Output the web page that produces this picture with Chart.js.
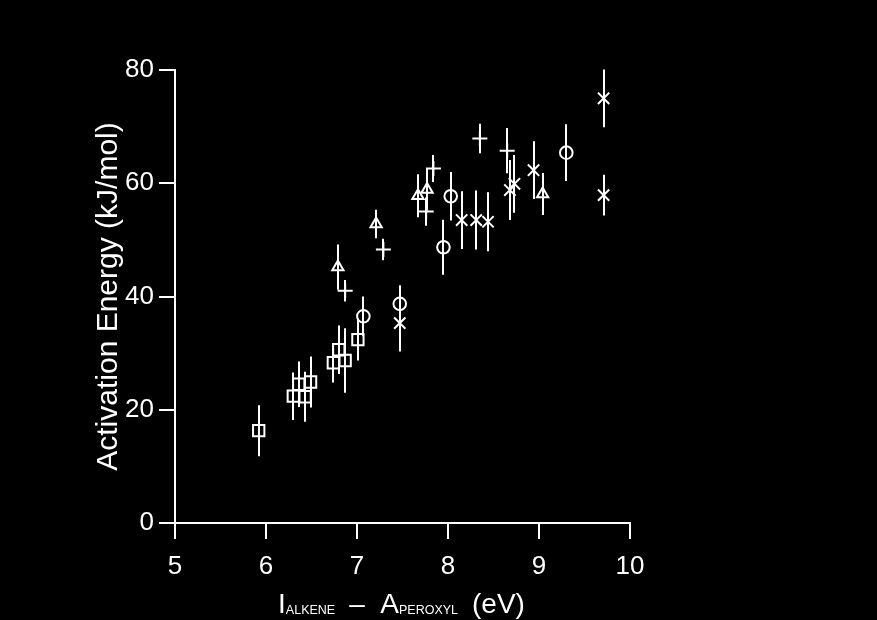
<!DOCTYPE html>
<html><head><meta charset="utf-8">
<script src="https://cdn.jsdelivr.net/npm/chart.js@4/dist/chart.umd.min.js"></script>
<style>html,body{margin:0;padding:0;background:#000;overflow:hidden}</style>
</head><body>
<canvas id="c" width="877" height="620"></canvas>
<script>
// ---- data ----
const xTicks = [5, 6, 7, 8, 9, 10];
const yTicks = [0, 20, 40, 60, 80];

const squareX   = [5.92, 6.30, 6.36, 6.43, 6.49, 6.74, 6.80, 6.87, 7.01];
const squareY   = [16.3, 22.4, 24.5, 22.3, 24.9, 28.3, 30.6, 28.7, 32.4];
const squareErr = [4.5, 4.2, 4.0, 4.4, 4.5, 3.5, 4.3, 5.7, 3.7];

const triangleX   = [6.79, 7.21, 7.67, 7.77, 9.04];
const triangleY   = [45.2, 52.8, 57.8, 58.9, 58.1];
const triangleErr = [4.0, 2.5, 3.8, 3.7, 3.7];

const circleX   = [7.07, 7.47, 7.95, 8.03, 9.30];
const circleY   = [36.5, 38.7, 48.7, 57.7, 65.4];
const circleErr = [3.5, 3.3, 4.85, 4.3, 5.0];

const crossX   = [7.47, 8.15, 8.31, 8.44, 8.68, 8.73, 8.94, 9.71, 9.71];
const crossY   = [35.3, 53.5, 53.5, 53.2, 58.8, 59.9, 62.3, 75.0, 57.9];
const crossErr = [5.0, 5.1, 5.2, 5.2, 5.3, 5.1, 5.1, 5.1, 3.6];

const plusX   = [6.87, 7.29, 7.76, 7.84, 8.35, 8.65];
const plusY   = [41.0, 48.3, 55.0, 62.6, 67.9, 65.75];
const plusErr = [1.9, 1.9, 2.5, 2.4, 2.6, 4.0];

const xTitleMain = ['I', '\u2013  A', '(eV)'];
const xTitleSub  = ['ALKENE', 'PEROXYL'];
const yTitle = 'Activation Energy (kJ/mol)';

// ---- build datasets ----
function pts(xs, ys) { return xs.map((x, i) => ({x: x, y: ys[i]})); }
function ds(label, xs, ys, errs, style, r) {
  return {label, data: pts(xs, ys), errors: errs, pointStyle: style, pointRadius: r,
    pointHoverRadius: r, borderColor: '#fff', backgroundColor: 'rgba(0,0,0,0)',
    pointBorderWidth: 2, borderWidth: 2, showLine: false};
}
const datasets = [
  ds('squares', squareX, squareY, squareErr, 'rect', 8),
  ds('triangles', triangleX, triangleY, triangleErr, 'triangle', 6.5),
  ds('circles', circleX, circleY, circleErr, 'circle', 6.3),
  ds('crosses', crossX, crossY, crossErr, 'crossRot', 8),
  ds('plus', plusX, plusY, plusErr, 'cross', 7.5)
];

const FONT = '"Liberation Sans", Arial, Helvetica, sans-serif';

const errorBars = {
  id: 'errorBars',
  beforeDatasetsDraw(chart) {
    const ctx = chart.ctx, xs = chart.scales.x, ys = chart.scales.y;
    ctx.save();
    ctx.strokeStyle = '#fff'; ctx.lineWidth = 2; ctx.lineCap = 'butt';
    chart.data.datasets.forEach(d => {
      d.data.forEach((p, i) => {
        const e = d.errors[i];
        const px = Math.round(xs.getPixelForValue(p.x));
        ctx.beginPath();
        ctx.moveTo(px, ys.getPixelForValue(p.y + e));
        ctx.lineTo(px, ys.getPixelForValue(p.y - e));
        ctx.stroke();
      });
    });
    ctx.restore();
  }
};

const titles = {
  id: 'titles',
  afterDraw(chart) {
    const ctx = chart.ctx, a = chart.chartArea;
    ctx.save();
    ctx.fillStyle = '#fff';
    // y title
    ctx.save();
    ctx.translate(a.left - 58, (a.top + a.bottom) / 2);
    ctx.rotate(-Math.PI / 2);
    ctx.font = '30px ' + FONT;
    ctx.textAlign = 'center';
    ctx.textBaseline = 'alphabetic';
    ctx.fillText(yTitle, 0, 0);
    ctx.restore();
    // x title with subscripts
    const base = 613;
    const big = '28px ' + FONT, small = '12.5px ' + FONT;
    ctx.textBaseline = 'alphabetic';
    ctx.textAlign = 'left';
    const pieces = [
      [xTitleMain[0], big, 0],
      [xTitleSub[0], small, 1],
      [xTitleMain[1], big, 0],
      [xTitleSub[1], small, 1],
      [xTitleMain[2], big, 0]
    ];
    const gaps = [0, 14, 0, 14];
    let total = 0;
    pieces.forEach((p, i) => { ctx.font = p[1]; total += ctx.measureText(p[0]).width + (gaps[i] || 0); });
    let x = (a.left + a.right) / 2 - total / 2 - 1;
    pieces.forEach((p, i) => {
      ctx.font = p[1];
      ctx.fillText(p[0], x, base + (p[2] ? 1 : 0));
      x += ctx.measureText(p[0]).width + (gaps[i] || 0);
    });
    ctx.restore();
  }
};

new Chart(document.getElementById('c'), {
  type: 'scatter',
  data: {datasets},
  plugins: [errorBars, titles],
  options: {
    responsive: false,
    animation: false,
    events: [],
    layout: {padding: {left: 0, right: 247, top: 70, bottom: 0}},
    plugins: {legend: {display: false}, tooltip: {enabled: false}},
    scales: {
      x: {
        type: 'linear', min: 5, max: 10,
        afterFit(s) { s.height = 97; },
        afterBuildTicks(s) { s.ticks = xTicks.map(v => ({value: v})); },
        border: {display: true, color: '#fff', width: 2},
        grid: {display: true, drawOnChartArea: false, drawTicks: true, tickLength: 16, color: '#fff', lineWidth: 2},
        ticks: {color: '#fff', padding: 12, font: {family: FONT, size: 26}, maxRotation: 0, autoSkip: false}
      },
      y: {
        type: 'linear', min: 0, max: 80,
        afterFit(s) { s.width = 175; },
        afterBuildTicks(s) { s.ticks = yTicks.map(v => ({value: v})); },
        border: {display: true, color: '#fff', width: 2},
        grid: {display: true, drawOnChartArea: false, drawTicks: true, tickLength: 16, color: '#fff', lineWidth: 2},
        ticks: {color: '#fff', padding: 5, font: {family: FONT, size: 26}, autoSkip: false}
      }
    }
  }
});
</script>
</body></html>
